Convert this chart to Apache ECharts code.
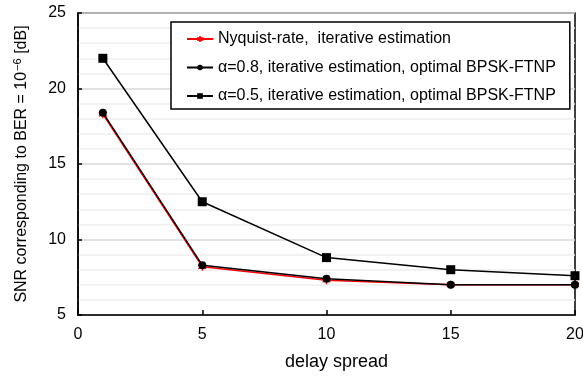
<!DOCTYPE html>
<html>
<head>
<meta charset="utf-8">
<script src="https://cdn.jsdelivr.net/npm/echarts@6/dist/echarts.min.js"></script>
<style>
  html, body { margin: 0; padding: 0; background: #fff; }
  #chart { width: 583px; height: 379px; }
</style>
</head>
<body>
<div id="chart"></div>
<script>
// delay spread values (x) and SNR at BER = 1e-6 for each scheme
const delaySpread = [1, 5, 10, 15, 20];
const nyquistSnr = [18.3, 8.2, 7.3, 7.0, 7.0];
const alpha08Snr = [18.4, 8.3, 7.4, 7.0, 7.0];
const alpha05Snr = [22.0, 12.5, 8.8, 8.0, 7.6];
const seriesNames = [
  'Nyquist-rate,  iterative estimation',
  'α=0.8, iterative estimation, optimal BPSK-FTNP',
  'α=0.5, iterative estimation, optimal BPSK-FTNP'
];
const xTicks = [0, 5, 10, 15, 20];
const yTicks = [5, 10, 15, 20, 25];

const pairs = (ys) => delaySpread.map((x, i) => [x, ys[i]]);
const FONT = 'Liberation Sans, Arial, sans-serif';
const asterisk = 'path://M5 0 L5 10 M0.7 2.5 L9.3 7.5 M0.7 7.5 L9.3 2.5';

const chart = echarts.init(document.getElementById('chart'), null, { renderer: 'canvas' });
chart.setOption({
  animation: false,
  backgroundColor: '#fff',
  textStyle: { fontFamily: FONT },
  grid: {
    left: 78, right: 8, top: 13, bottom: 64,
    outerBoundsMode: 'none',
    containLabel: false,
    show: true, borderColor: '#000', borderWidth: 1.5, backgroundColor: 'transparent'
  },
  legend: {
    orient: 'vertical',
    left: 171, top: 22,
    padding: [9, 14, 5, 15],
    itemGap: 12.5,
    itemWidth: 26, itemHeight: 7,
    borderColor: '#000', borderWidth: 1.5,
    backgroundColor: '#fff',
    textStyle: { fontSize: 16, color: '#000', fontFamily: FONT },
    data: seriesNames
  },
  xAxis: {
    type: 'value',
    min: xTicks[0], max: xTicks[xTicks.length - 1], interval: 5,
    name: 'delay spread',
    nameLocation: 'middle',
    nameGap: 38,
    nameTextStyle: { fontSize: 18, color: '#000', fontFamily: FONT, padding: [0, 0, 0, 20] },
    axisLine: { show: true, lineStyle: { color: '#000', width: 1.5 } },
    axisTick: { show: true, inside: true, length: 5, lineStyle: { color: '#000', width: 1.5 } },
    axisLabel: { fontSize: 16, color: '#000', margin: 12, fontFamily: FONT },
    splitLine: { show: false }
  },
  yAxis: {
    type: 'value',
    min: yTicks[0], max: yTicks[yTicks.length - 1], interval: 5,
    name: '{a|SNR corresponding to BER = 10}{s|−6}{a| [dB]}',
    nameLocation: 'middle',
    nameGap: 46,
    nameRotate: 90,
    nameTextStyle: {
      fontSize: 16, color: '#000', fontFamily: FONT,
      rich: {
        a: { fontSize: 16, color: '#000', fontFamily: FONT, lineHeight: 20 },
        s: { fontSize: 11, color: '#000', fontFamily: FONT, verticalAlign: 'top', lineHeight: 20, padding: [0, 0, 8, 1] }
      }
    },
    axisLine: { show: true, lineStyle: { color: '#000', width: 1.5 } },
    axisTick: { show: true, inside: true, length: 4, lineStyle: { color: '#000', width: 1.5 } },
    axisLabel: { fontSize: 16, color: '#000', margin: 12, fontFamily: FONT },
    splitLine: { show: true, lineStyle: { color: '#d9d9d9', width: 1.5 } },
    minorTick: { show: false, splitNumber: 5 },
    minorSplitLine: { show: true, lineStyle: { color: '#eeeeee', width: 1.5 } }
  },
  series: [
    {
      name: seriesNames[0], type: 'line', data: pairs(nyquistSnr),
      symbol: asterisk, symbolSize: 8,
      lineStyle: { color: '#ff0000', width: 1.5 },
      itemStyle: { color: '#ff0000', borderColor: '#ff0000', borderWidth: 1.2 },
      z: 2
    },
    {
      name: seriesNames[1], type: 'line', data: pairs(alpha08Snr),
      symbol: 'circle', symbolSize: 8,
      lineStyle: { color: '#000', width: 1.5 },
      itemStyle: { color: '#000' },
      z: 3
    },
    {
      name: seriesNames[2], type: 'line', data: pairs(alpha05Snr),
      symbol: 'rect', symbolSize: 9,
      lineStyle: { color: '#000', width: 1.5 },
      itemStyle: { color: '#000' },
      z: 3
    }
  ]
});
</script>
</body>
</html>
